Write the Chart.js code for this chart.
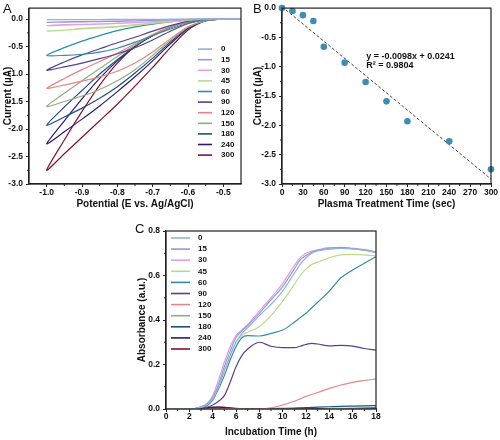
<!DOCTYPE html>
<html>
<head>
<meta charset="utf-8">
<script src="https://cdn.jsdelivr.net/npm/chart.js@4.4.1/dist/chart.umd.min.js"></script>
<style>
  html, body { margin: 0; padding: 0; background: #fff; }
  #wrap { position: relative; width: 500px; height: 440px; overflow: hidden; font-family: "Liberation Sans", Arial, sans-serif; }
  canvas { position: absolute; }
  .tag { position: absolute; font-size: 13px; color: #111; line-height: 1; }
</style>
</head>
<body>
<div id="wrap">
  <canvas id="chartA" width="250" height="210" style="left:0;top:0"></canvas>
  <canvas id="chartB" width="250" height="210" style="left:250px;top:0"></canvas>
  <canvas id="chartC" width="280" height="225" style="left:110px;top:215px"></canvas>
  <div class="tag" style="left:3px;top:2px">A</div>
  <div class="tag" style="left:253px;top:2px">B</div>
  <div class="tag" style="left:135px;top:222px">C</div>
</div>
<script>
// plasma treatment times (sec) used as series names
const treatTimes = ['0', '15', '30', '45', '60', '90', '120', '150', '180', '240', '300'];
const seriesColors = ['#8eb4dc', '#9a96d0', '#e0a0e6', '#bcd98a', '#2f8ea6', '#5a3f8c',
                      '#e58585', '#8fae7e', '#1d4f86', '#2b1b6e', '#8a1030'];

// Panel A: sweep -0.45 -> -1.0 -> -0.45 V
const sweepPotential = [-0.45, -0.5, -0.55, -0.6, -0.65, -0.7, -0.75, -0.8, -0.85, -0.9, -0.95, -1.0,
                        -0.95, -0.9, -0.85, -0.8, -0.75, -0.7, -0.65, -0.6, -0.55, -0.5, -0.45];
const cv0   = [0, 0, 0, 0, -0.002, -0.004, -0.005, -0.006, -0.007, -0.008, -0.009, -0.01, -0.009, -0.008, -0.007, -0.006, -0.005, -0.004, -0.003, -0.002, 0, 0, 0];
const cv15  = [0, 0, 0, -0.005, -0.015, -0.025, -0.035, -0.04, -0.045, -0.05, -0.055, -0.06, -0.05, -0.045, -0.04, -0.035, -0.03, -0.02, -0.012, -0.005, 0, 0, 0];
const cv30  = [0, 0, 0, -0.01, -0.03, -0.05, -0.065, -0.08, -0.09, -0.1, -0.11, -0.12, -0.1, -0.095, -0.085, -0.075, -0.06, -0.045, -0.03, -0.01, 0, 0, 0];
const cv45  = [0, 0, -0.005, -0.02, -0.05, -0.08, -0.11, -0.14, -0.16, -0.18, -0.2, -0.22, -0.2, -0.17, -0.15, -0.13, -0.1, -0.07, -0.04, -0.02, 0, 0, 0];
const cv60  = [0, 0, -0.02, -0.08, -0.18, -0.3, -0.42, -0.53, -0.6, -0.64, -0.66, -0.66, -0.52, -0.4, -0.3, -0.21, -0.14, -0.09, -0.05, -0.02, 0, 0, 0];
const cv90  = [0, 0, -0.01, -0.08, -0.22, -0.38, -0.52, -0.63, -0.72, -0.8, -0.87, -0.93, -0.78, -0.65, -0.54, -0.43, -0.33, -0.22, -0.12, -0.04, -0.01, 0, 0];
const cv120 = [0, 0, -0.03, -0.14, -0.36, -0.6, -0.8, -0.95, -1.05, -1.13, -1.2, -1.26, -1.08, -0.92, -0.77, -0.62, -0.45, -0.28, -0.14, -0.05, -0.01, 0, 0];
const cv150 = [0, 0, -0.03, -0.15, -0.39, -0.66, -0.92, -1.12, -1.28, -1.4, -1.5, -1.59, -1.35, -1.12, -0.9, -0.68, -0.47, -0.29, -0.15, -0.05, -0.01, 0, 0];
const cv180 = [0, 0, -0.03, -0.16, -0.42, -0.71, -0.98, -1.23, -1.44, -1.62, -1.78, -1.93, -1.6, -1.3, -1.0, -0.74, -0.5, -0.3, -0.15, -0.05, -0.01, 0, 0];
const cv240 = [0, 0, -0.03, -0.17, -0.45, -0.76, -1.05, -1.32, -1.58, -1.82, -2.05, -2.27, -1.85, -1.45, -1.08, -0.76, -0.5, -0.3, -0.15, -0.05, -0.01, 0, 0];
const cv300 = [0, 0, -0.03, -0.2, -0.52, -0.88, -1.22, -1.55, -1.85, -2.15, -2.45, -2.75, -2.2, -1.68, -1.2, -0.8, -0.5, -0.3, -0.15, -0.05, -0.01, 0, 0];
const cvCurves = [cv0, cv15, cv30, cv45, cv60, cv90, cv120, cv150, cv180, cv240, cv300];
const potentialTicks = [-1.0, -0.9, -0.8, -0.7, -0.6, -0.5];
const currentTicks = [-3.0, -2.5, -2.0, -1.5, -1.0, -0.5, 0.0];

// Panel B: peak current vs treatment time
const plasmaTime  = [0, 15, 30, 45, 60, 90, 120, 150, 180, 240, 300];
const peakCurrent = [0.0, -0.05, -0.12, -0.22, -0.66, -0.93, -1.26, -1.59, -1.93, -2.27, -2.75];
const fitSlope = -0.0098, fitIntercept = 0.0241, fitR2 = 0.9804;
const plasmaTicks = [0, 30, 60, 90, 120, 150, 180, 210, 240, 270, 300];

// Panel C: growth curves
const incubTime = [0, 2, 3, 3.5, 4, 4.5, 5, 5.5, 6, 6.5, 7, 8, 9, 10, 11, 11.5, 12, 12.5, 13, 14, 15, 16, 17, 18];
const abs0   = [0, 0, 0.008, 0.02, 0.045, 0.1, 0.17, 0.24, 0.3, 0.34, 0.365, 0.42, 0.47, 0.53, 0.61, 0.65, 0.68, 0.7, 0.71, 0.718, 0.722, 0.72, 0.714, 0.705];
const abs15  = [0, 0, 0.01, 0.02, 0.05, 0.11, 0.19, 0.26, 0.32, 0.35, 0.375, 0.43, 0.49, 0.55, 0.63, 0.67, 0.69, 0.705, 0.713, 0.722, 0.726, 0.722, 0.716, 0.706];
const abs30  = [0, 0, 0.01, 0.025, 0.06, 0.13, 0.21, 0.28, 0.33, 0.355, 0.38, 0.44, 0.5, 0.565, 0.645, 0.68, 0.7, 0.71, 0.716, 0.725, 0.725, 0.72, 0.713, 0.703];
const abs45  = [0, 0, 0.008, 0.02, 0.045, 0.1, 0.17, 0.24, 0.3, 0.33, 0.345, 0.37, 0.42, 0.485, 0.56, 0.6, 0.63, 0.65, 0.66, 0.68, 0.693, 0.695, 0.693, 0.688];
const abs60  = [0, 0, 0.006, 0.015, 0.04, 0.09, 0.15, 0.22, 0.28, 0.32, 0.33, 0.328, 0.34, 0.355, 0.39, 0.41, 0.43, 0.455, 0.48, 0.53, 0.59, 0.625, 0.655, 0.685];
const abs90  = [0, 0, 0.003, 0.008, 0.018, 0.035, 0.06, 0.12, 0.19, 0.24, 0.27, 0.3, 0.282, 0.276, 0.276, 0.282, 0.29, 0.295, 0.292, 0.284, 0.286, 0.283, 0.272, 0.265];
const abs120 = [0, 0, 0, 0, 0.002, 0.002, 0.002, 0.002, 0.001, 0.001, 0, 0, 0.005, 0.018, 0.035, 0.045, 0.057, 0.065, 0.074, 0.093, 0.108, 0.12, 0.128, 0.135];
const abs150 = [0, 0, 0, 0, 0, 0, 0, 0, 0, 0, 0, 0, 0, 0, 0, 0, 0, 0, 0, 0.002, 0.003, 0.004, 0.004, 0.005];
const abs180 = [0, 0, 0, 0, 0, 0, 0, 0, 0, 0, 0, 0, 0.002, 0.003, 0.004, 0.005, 0.006, 0.007, 0.008, 0.01, 0.012, 0.013, 0.014, 0.015];
const abs240 = [0, 0, 0.003, 0.006, 0.009, 0.009, 0.007, 0.004, 0.002, 0, 0, 0, 0, 0, 0, 0, 0, 0, 0, 0, 0, 0, 0, 0];
const abs300 = [0, 0, 0.002, 0.004, 0.006, 0.008, 0.007, 0.005, 0.003, 0.002, 0.002, 0.002, 0.002, 0.001, 0, 0, 0, 0, 0, 0, 0, 0.002, 0.004, 0.006];
const absCurves = [abs0, abs15, abs30, abs45, abs60, abs90, abs120, abs150, abs180, abs240, abs300];
const incubTicks = [0, 2, 4, 6, 8, 10, 12, 14, 16, 18];
const absTicks = [0.0, 0.2, 0.4, 0.6, 0.8];

const FONT = '"Liberation Sans", Arial, sans-serif';
Chart.defaults.font.family = FONT;
Chart.defaults.font.weight = 'bold';
Chart.defaults.color = '#111';
Chart.defaults.animation = false;

// box around plot area + minor ticks halfway between major ticks
const frame = {
  id: 'frame',
  afterDraw(chart) {
    const { ctx, chartArea: a, scales } = chart;
    ctx.save();
    ctx.strokeStyle = '#222';
    ctx.lineWidth = 1.2;
    ctx.strokeRect(a.left, a.top, a.right - a.left, a.bottom - a.top);
    ctx.lineWidth = 1;
    const xs = scales.x.ticks.map(t => t.value), ys = scales.y.ticks.map(t => t.value);
    ctx.beginPath();
    for (let i = 0; i < xs.length - 1; i++) {
      const px = scales.x.getPixelForValue((xs[i] + xs[i + 1]) / 2);
      ctx.moveTo(px, a.bottom); ctx.lineTo(px, a.bottom + 2);
    }
    for (let i = 0; i < ys.length - 1; i++) {
      const py = scales.y.getPixelForValue((ys[i] + ys[i + 1]) / 2);
      ctx.moveTo(a.left, py); ctx.lineTo(a.left - 2, py);
    }
    ctx.stroke();
    ctx.restore();
  }
};

// legend drawn inside the plot area
const innerLegend = {
  id: 'innerLegend',
  afterDatasetsDraw(chart, args, o) {
    if (!o.show) return;
    const { ctx, chartArea: a } = chart;
    const x0 = a.left + o.dx, y0 = a.top + o.dy;
    ctx.save();
    ctx.font = 'bold 8px ' + FONT;
    ctx.textBaseline = 'middle';
    chart.data.datasets.forEach((ds, i) => {
      const y = y0 + i * o.gap;
      ctx.strokeStyle = ds.borderColor;
      ctx.lineWidth = 1.6;
      ctx.beginPath(); ctx.moveTo(x0, y); ctx.lineTo(x0 + o.len, y); ctx.stroke();
      ctx.fillStyle = '#111';
      ctx.fillText(ds.label, x0 + o.len + o.textGap, y);
    });
    ctx.restore();
  }
};

// text annotation for the fit equation
const fitText = {
  id: 'fitText',
  afterDatasetsDraw(chart, args, o) {
    if (!o.lines) return;
    const { ctx, scales } = chart;
    ctx.save();
    ctx.font = 'bold 9px ' + FONT;
    ctx.fillStyle = '#111';
    ctx.textBaseline = 'middle';
    o.lines.forEach(l => ctx.fillText(l.text, scales.x.getPixelForValue(l.x), scales.y.getPixelForValue(l.y)));
    ctx.restore();
  }
};

function makeAxis(o) {
  return {
    type: 'linear',
    min: o.min, max: o.max,
    afterBuildTicks: s => { s.ticks = o.ticks.map(v => ({ value: v })); },
    afterFit: s => { if (o.width) s.width = o.width; if (o.height) s.height = o.height; },
    ticks: { font: { size: 8.5, weight: 'bold' }, color: '#111', padding: o.pad, autoSkip: false, maxRotation: 0,
             callback: v => o.fmt(v) },
    grid: { drawOnChartArea: false, drawTicks: true, tickLength: 3, tickColor: '#222', tickWidth: 1 },
    border: { display: true, color: '#222', width: 1.2 },
    title: { display: true, text: o.title, font: { size: 10, weight: 'bold' }, color: '#111', padding: o.titlePad }
  };
}

// ---- Panel A
new Chart(document.getElementById('chartA'), {
  type: 'scatter',
  data: {
    datasets: cvCurves.map((cv, i) => ({
      label: treatTimes[i],
      data: sweepPotential.map((e, k) => ({ x: e, y: cv[k] })),
      showLine: true, borderColor: seriesColors[i], borderWidth: 1.2,
      pointRadius: 0, tension: 0.25
    }))
  },
  options: {
    responsive: false,
    layout: { padding: { left: 0, top: 5, right: 9, bottom: 0 } },
    plugins: { legend: { display: false }, tooltip: { enabled: false },
               innerLegend: { show: true, dx: 169, dy: 41, gap: 10.6, len: 14, textGap: 9 } },
    scales: {
      x: makeAxis({ min: -1.05, max: -0.45, ticks: potentialTicks, height: 26, pad: 1,
                    fmt: v => v.toFixed(1), title: 'Potential (E vs. Ag/AgCl)', titlePad: { top: 0, bottom: 0 } }),
      y: makeAxis({ min: -3.0, max: 0.2, ticks: currentTicks, width: 29, pad: 3,
                    fmt: v => v.toFixed(1), title: 'Current (\u00b5A)', titlePad: { top: 2, bottom: 2 } })
    }
  },
  plugins: [frame, innerLegend]
});

// ---- Panel B
new Chart(document.getElementById('chartB'), {
  type: 'scatter',
  data: {
    datasets: [
      { label: 'data', data: plasmaTime.map((t, i) => ({ x: t, y: peakCurrent[i] })),
        backgroundColor: '#3d8cb4', borderWidth: 0, pointRadius: 3.3, clip: false },
      { label: 'fit', data: [0, 300].map(t => ({ x: t, y: fitSlope * t + fitIntercept })),
        showLine: true, borderColor: '#444', borderWidth: 1, borderDash: [3, 2], pointRadius: 0 }
    ]
  },
  options: {
    responsive: false,
    layout: { padding: { left: 0, top: 5, right: 9, bottom: 0 } },
    plugins: { legend: { display: false }, tooltip: { enabled: false },
               fitText: { lines: [
                 { text: 'y = ' + fitSlope + 'x + ' + fitIntercept, x: 121, y: -0.82 },
                 { text: 'R\u00b2 = ' + fitR2, x: 121, y: -0.98 } ] } },
    scales: {
      x: makeAxis({ min: 0, max: 300, ticks: plasmaTicks, height: 26, pad: 1,
                    fmt: v => String(v), title: 'Plasma Treatment Time (sec)', titlePad: { top: 0, bottom: 0 } }),
      y: makeAxis({ min: -3.0, max: 0.0, ticks: currentTicks, width: 32, pad: 3,
                    fmt: v => v.toFixed(1), title: 'Current (\u00b5A)', titlePad: { top: 2, bottom: 2 } })
    }
  },
  plugins: [frame, fitText]
});

// ---- Panel C
new Chart(document.getElementById('chartC'), {
  type: 'scatter',
  data: {
    datasets: absCurves.map((ab, i) => ({
      label: treatTimes[i],
      data: incubTime.map((t, k) => ({ x: t, y: ab[k] })),
      showLine: true, borderColor: seriesColors[i], borderWidth: 1.2,
      pointRadius: 0, cubicInterpolationMode: 'monotone'
    }))
  },
  options: {
    responsive: false,
    layout: { padding: { left: 22, top: 16, right: 14, bottom: 0 } },
    plugins: { legend: { display: false }, tooltip: { enabled: false },
               innerLegend: { show: true, dx: 5, dy: 7, gap: 11.1, len: 19, textGap: 8 } },
    scales: {
      x: makeAxis({ min: 0, max: 18, ticks: incubTicks, height: 31, pad: 0,
                    fmt: v => String(v), title: 'Incubation Time (h)', titlePad: { top: 0, bottom: 2 } }),
      y: makeAxis({ min: 0, max: 0.8, ticks: absTicks, width: 34, pad: 3,
                    fmt: v => v.toFixed(1), title: 'Absorbance (a.u.)', titlePad: { top: 4, bottom: 4 } })
    }
  },
  plugins: [frame, innerLegend]
});
</script>
</body>
</html>
